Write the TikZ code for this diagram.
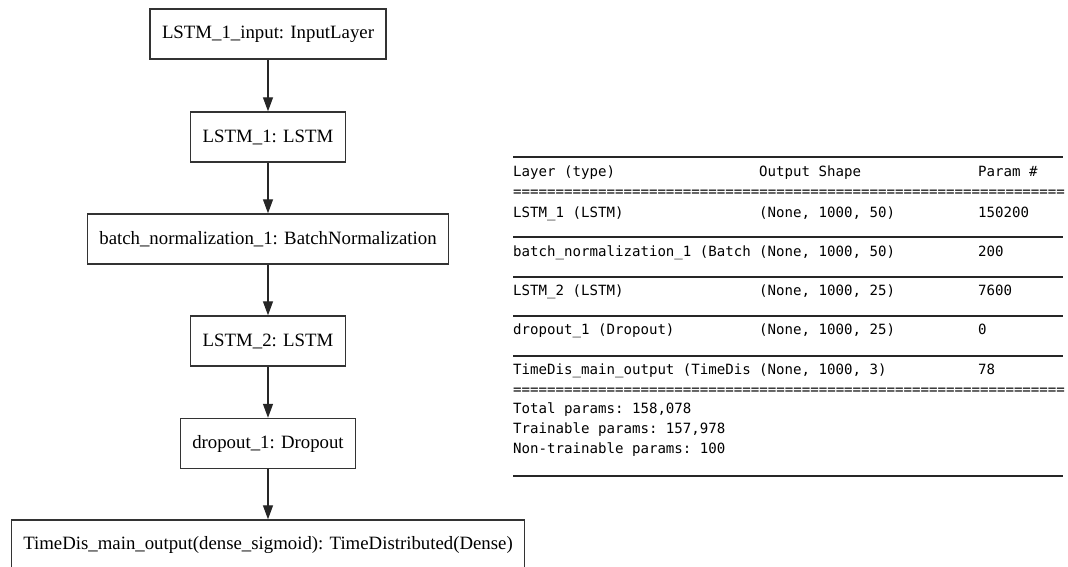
\documentclass[tikz,border=0pt]{standalone}
\usepackage{fontspec}
\setmainfont{Liberation Serif}
\setmonofont{DejaVu Sans Mono}
\usetikzlibrary{arrows.meta}

\begin{document}
\begin{tikzpicture}[x=1pt,y=-1pt,
    layer/.style={draw=black!80, line width=1.4pt, minimum height=50pt, inner xsep=12pt,
      font=\fontsize{18.8}{22}\selectfont},
    flow/.style={-{Triangle[length=14pt,width=10pt]}, line width=1.3pt, black!85},
    summ/.style={anchor=base west, inner sep=0pt, font=\fontsize{14.1}{16}\selectfont\ttfamily},
    rule/.style={line width=1.5pt, black!85}]
  \useasboundingbox (0,0) rectangle (1068,566);
  \clip (0,0) rectangle (1068,566);

  % Model graph
  \node[layer] (input) at (268,34) {LSTM\_1\_input: InputLayer};
  \node[layer] (lstm1) at (268,137) {LSTM\_1: LSTM};
  \node[layer] (bnorm) at (268,239) {batch\_normalization\_1: BatchNormalization};
  \node[layer] (lstm2) at (268,341) {LSTM\_2: LSTM};
  \node[layer] (drop1) at (268,443.5) {dropout\_1: Dropout};
  \node[layer] (tdout) at (268,545) {TimeDis\_main\_output(dense\_sigmoid): TimeDistributed(Dense)};

  % Connections
  \draw[flow] (input) -- (lstm1);
  \draw[flow] (lstm1) -- (bnorm);
  \draw[flow] (bnorm) -- (lstm2);
  \draw[flow] (lstm2) -- (drop1);
  \draw[flow] (drop1) -- (tdout);

  % Summary table
  \draw[rule] (513,157) -- (1063,157);
  \foreach \y in {237,277,316,356,476}
    \draw[rule] (513,\y) -- (1063,\y);
  \node[summ] (hlayer) at (513,176) {Layer (type)};
  \node[summ] (hshape) at (759,176) {Output Shape};
  \node[summ] (hparam) at (978,176) {Param \#};
  \node[summ] (eqtop) at (513,196) {=================================================================};
  \foreach \lname/\lshape/\lparam [count=\i] in {
      LSTM\_1 (LSTM)/{(None, 1000, 50)}/150200,
      batch\_normalization\_1 (Batch/{(None, 1000, 50)}/200,
      LSTM\_2 (LSTM)/{(None, 1000, 25)}/7600,
      dropout\_1 (Dropout)/{(None, 1000, 25)}/0,
      TimeDis\_main\_output (TimeDis/{(None, 1000, 3)}/78} {
    \node[summ] (name\i) at (513,{217+(\i-1)*39.3}) {\lname};
    \node[summ] (shape\i) at (759,{217+(\i-1)*39.3}) {\lshape};
    \node[summ] (param\i) at (978,{217+(\i-1)*39.3}) {\lparam};
  }
  \node[summ] (eqbot) at (513,394) {=================================================================};
  \node[summ] (total) at (513,413) {Total params: 158,078};
  \node[summ] (train) at (513,433) {Trainable params: 157,978};
  \node[summ] (nontrain) at (513,453) {Non-trainable params: 100};
\end{tikzpicture}
\end{document}
